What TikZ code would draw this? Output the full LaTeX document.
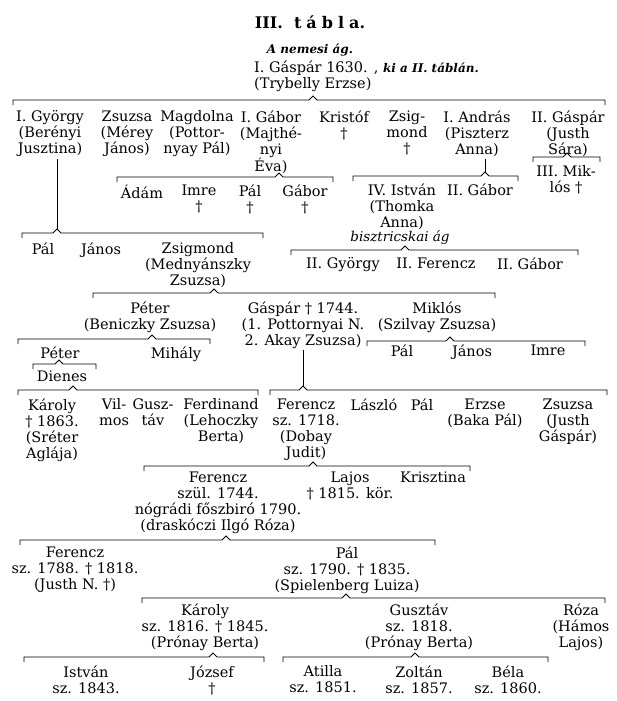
\documentclass[tikz,border=0pt]{standalone}
\usepackage{fontspec}
\setmainfont{DejaVu Serif}

% family tree text and brackets
\newcommand{\genfont}{\fontsize{14.5}{16}\selectfont}
\newcommand{\kapocs}[5]{% name, left, right, peak, y
  \draw[kapocs] (#2,#5+5) -- (#2,#5) -- (#4-4,#5) -- (#4,#5-4) -- (#4+4,#5) -- (#3,#5) -- (#3,#5+5);
  \coordinate (#1) at (#4,#5-4);}

\tikzset{
  nev/.style={anchor=north, yshift=6.5pt, inner sep=0pt, align=center, font=\genfont, execute at begin node=\strut},
  kapocs/.style={line width=0.9pt, line join=miter},
  vonal/.style={line width=0.9pt},
}

\begin{document}
\begin{tikzpicture}[x=1pt, y=-1pt]
\useasboundingbox (0,0) rectangle (617,701);

% Heading
\node[font=\fontsize{16}{18}\selectfont\bfseries] (cim) at (310,22) {III.\ \ t\kern5pt á\kern5pt b\kern5pt l\kern5pt a.};
\node[font=\fontsize{12}{14}\selectfont\bfseries\itshape] (nemesi) at (310,50) {A nemesi ág.};
\node[nev, anchor=north west, align=left] (gaspar1) at (254,67) {I. Gáspár 1630. , {\fontsize{12}{16}\selectfont\bfseries\itshape ki a II. táblán.}\\(Trybelly Erzse)};
\kapocs{kGaspar1}{13}{605}{313}{100}

% Children of I. Gáspár
\foreach \nm/\x/\t in {gyorgy/50/{I. György\\(Berényi\\Jusztina)}, zsuzsa/127/{Zsuzsa\\(Mérey\\János)},
    magdolna/197/{Magdolna\\(Pottor-\\nyay Pál)}, gabor1/271/{I. Gábor\\(Majthé-\\nyi\\Éva)},
    kristof/344/{Kristóf\\†}, zsigmond1/407/{Zsig-\\mond\\†}, andras/477/{I. András\\(Piszterz\\Anna)},
    gaspar2/568/{II. Gáspár\\(Justh\\Sára)}} {
  \node[nev] (\nm) at (\x,117) {\t};
}

% I. Gábor, I. András, II. Gáspár
\kapocs{kGabor1}{117}{333}{279}{177}
\foreach \nm/\x/\t in {adam/142/{Ádám}, imre1/199/{Imre\\†}, pal1/250/{Pál\\†}, gabor2/305/{Gábor\\†}} {
  \node[nev] (\nm) at (\x,191) {\t};
}
\kapocs{kAndras}{353}{518}{485}{176}
\draw[vonal] (andras.south -| kAndras) -- (kAndras);
\node[nev] (istvan4) at (402,190) {IV. István\\(Thomka\\Anna)};
\node[nev] (gabor3) at (480,190) {II. Gábor};
\kapocs{kGaspar2}{533}{600}{567}{157}
\node[nev] (miklos3) at (566,172) {III. Mik-\\lós †};

% I. György
\kapocs{kGyorgy}{22}{263}{57}{233}
\draw[vonal] (gyorgy.south -| kGyorgy) -- (kGyorgy);
\node[nev] (pal2) at (43,249) {Pál};
\node[nev] (janos1) at (101,249) {János};
\node[nev] (zsigmond2) at (198,249) {Zsigmond\\(Mednyánszky\\Zsuzsa)};

% bisztricskai branch
\node[font=\fontsize{13.5}{16}\selectfont\itshape] (bisztricskai) at (400,238) {bisztricskai ág};
\kapocs{kIstvan}{291}{578}{405}{250}
\foreach \nm/\x/\t in {gyorgy2/343/{II. György}, ferencz2/436/{II. Ferencz}, gabor4/530/{II. Gábor}} {
  \node[nev] (\nm) at (\x,264) {\t};
}

% Zsigmond
\kapocs{kZsigmond}{93}{495}{214}{293}
\node[nev] (peter1) at (150,308) {Péter\\(Beniczky Zsuzsa)};
\node[nev] (gaspar3) at (303,308) {Gáspár † 1744.\\(1. Pottornyai N.\\2. Akay Zsuzsa)};
\node[nev] (miklos1) at (437,308) {Miklós\\(Szilvay Zsuzsa)};

% Péter
\kapocs{kPeter1}{18}{210}{152}{339}
\node[nev] (peter2) at (60,353) {Péter};
\node[nev] (mihaly) at (176,353) {Mihály};
\kapocs{kPeter2}{33}{96}{59}{364}
\node[nev] (dienes) at (62,377) {Dienes};
\kapocs{kDienes}{18}{258}{73}{390}
\foreach \nm/\x/\t in {karoly1/52/{Károly\\† 1863.\\(Sréter\\Aglája)}, vilmos/114/{Vil-\\mos},
    gusztav1/153/{Gusz-\\táv}, ferdinand/221/{Ferdinand\\(Lehoczky\\Berta)}} {
  \node[nev] (\nm) at (\x,405) {\t};
}

% Miklós
\kapocs{kMiklos}{367}{585}{450}{341}
\foreach \nm/\x/\t in {pal3/402/{Pál}, janos2/472/{János}, imre2/548/{Imre}} {
  \node[nev] (\nm) at (\x,351) {\t};
}

% Gáspár
\kapocs{kGaspar3}{270}{607}{303}{390}
\draw[vonal] (gaspar3.south -| kGaspar3) -- (kGaspar3);
\foreach \nm/\x/\t in {ferencz1/306/{Ferencz\\sz. 1718.\\(Dobay\\Judit)}, laszlo/374/{László},
    pal4/422/{Pál}, erzse/485/{Erzse\\(Baka Pál)}, zsuzsa2/568/{Zsuzsa\\(Justh\\Gáspár)}} {
  \node[nev] (\nm) at (\x,405) {\t};
}

% Ferencz sz. 1718.
\kapocs{kFerencz1}{144}{470}{313}{466}
\node[nev] (ferencz3) at (218,478) {Ferencz\\szül. 1744.\\nógrádi főszbiró 1790.\\(draskóczi Ilgó Róza)};
\node[nev] (lajos) at (350,478) {Lajos\\† 1815. kör.};
\node[nev] (krisztina) at (433,478) {Krisztina};

% Ferencz szül. 1744.
\kapocs{kFerencz3}{20}{435}{226}{540}
\node[nev] (ferencz4) at (75,553) {Ferencz\\sz. 1788. † 1818.\\(Justh N. †)};
\node[nev] (pal5) at (347,553) {Pál\\sz. 1790. † 1835.\\(Spielenberg Luiza)};

% Pál sz. 1790.
\kapocs{kPal5}{142}{605}{346}{598}
\node[nev] (karoly2) at (205,610) {Károly\\sz. 1816. † 1845.\\(Prónay Berta)};
\node[nev] (gusztav2) at (419,610) {Gusztáv\\sz. 1818.\\(Prónay Berta)};
\node[nev] (roza) at (581,610) {Róza\\(Hámos\\Lajos)};

% Károly and Gusztáv
\kapocs{kKaroly2}{24}{264}{213}{657}
\kapocs{kGusztav2}{283}{548}{415}{657}
\foreach \nm/\x/\t in {istvan2/86/{István\\sz. 1843.}, jozsef/212/{József\\†}, atilla/323/{Atilla\\sz. 1851.},
    zoltan/419/{Zoltán\\sz. 1857.}, bela/508/{Béla\\sz. 1860.}} {
  \node[nev] (\nm) at (\x,672) {\t};
}

\end{tikzpicture}
\end{document}
